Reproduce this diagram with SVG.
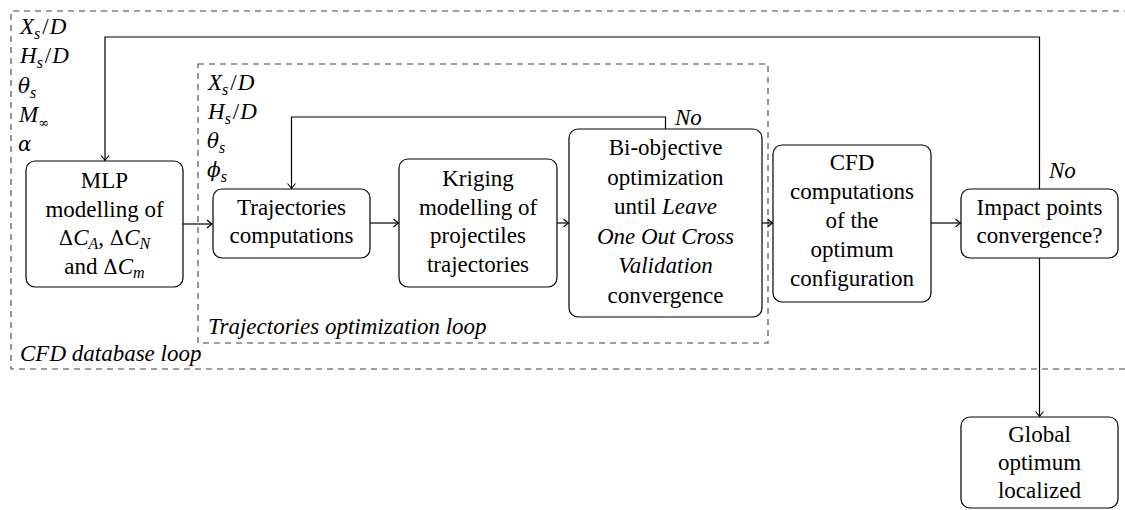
<svg xmlns="http://www.w3.org/2000/svg" width="1125" height="510" viewBox="0 0 1125 510">
<defs>
<marker id="arr" viewBox="-6 -5 8 10" markerWidth="8" markerHeight="10" refX="0" refY="0" orient="auto" markerUnits="userSpaceOnUse">
<path d="M-5,-4 Q-1.5,-1 0,0 Q-1.5,1 -5,4" fill="none" stroke="#000" stroke-width="1.1"/>
</marker>
</defs>
<g id="loops" fill="none" stroke="#444" stroke-width="1.1" stroke-dasharray="6 5">
<path d="M1130,11 H11 V369 H1130"/>
<rect x="198" y="64" width="570" height="279"/>
</g>
<g id="loop-labels" font-family="Liberation Serif" font-size="23" font-style="italic" fill="#000">
<text font-family="Liberation Serif" x="20" y="361">CFD database loop</text>
<text font-family="Liberation Serif" x="208" y="334">Trajectories optimization loop</text>
</g>
<g id="labels-outer" font-family="Liberation Serif" font-size="23" fill="#000">
<text font-family="Liberation Serif" x="20" y="34"><tspan font-style="italic">X</tspan><tspan font-style="italic" font-size="16" dy="5">s</tspan><tspan dy="-5" dx="2">/</tspan><tspan font-style="italic" dx="1">D</tspan></text>
<text font-family="Liberation Serif" x="20" y="63"><tspan font-style="italic">H</tspan><tspan font-style="italic" font-size="16" dy="5">s</tspan><tspan dy="-5" dx="2">/</tspan><tspan font-style="italic" dx="1">D</tspan></text>
<text font-family="DejaVu Serif" font-size="20" x="18" y="93"><tspan font-style="italic">θ</tspan><tspan font-family="Liberation Serif" font-style="italic" font-size="16" dy="5">s</tspan></text>
<text font-family="Liberation Serif" x="19" y="122"><tspan font-style="italic">M</tspan><tspan font-family="DejaVu Serif" font-size="13" dy="5">∞</tspan></text>
<text font-family="DejaVu Serif" font-size="20" x="18" y="151" font-style="italic">α</text>
</g>
<g id="labels-inner" font-family="Liberation Serif" font-size="23" fill="#000">
<text font-family="Liberation Serif" x="208" y="90"><tspan font-style="italic">X</tspan><tspan font-style="italic" font-size="16" dy="5">s</tspan><tspan dy="-5" dx="2">/</tspan><tspan font-style="italic" dx="1">D</tspan></text>
<text font-family="Liberation Serif" x="208" y="119"><tspan font-style="italic">H</tspan><tspan font-style="italic" font-size="16" dy="5">s</tspan><tspan dy="-5" dx="2">/</tspan><tspan font-style="italic" dx="1">D</tspan></text>
<text font-family="DejaVu Serif" font-size="20" x="207" y="148"><tspan font-style="italic">θ</tspan><tspan font-family="Liberation Serif" font-style="italic" font-size="16" dy="5">s</tspan></text>
<text font-family="DejaVu Serif" font-size="20" x="207" y="177"><tspan font-style="italic">ϕ</tspan><tspan font-family="Liberation Serif" font-style="italic" font-size="16" dy="5">s</tspan></text>
</g>
<g id="connectors" fill="none" stroke="#000" stroke-width="1.2">
<path d="M183,224 H212" marker-end="url(#arr)"/>
<path d="M370,223 H398.5" marker-end="url(#arr)"/>
<path d="M557,223 H568.5" marker-end="url(#arr)"/>
<path d="M762,223 H772.5" marker-end="url(#arr)"/>
<path d="M931,223 H960.5" marker-end="url(#arr)"/>
<path d="M1039.5,258 V416.5" marker-end="url(#arr)"/>
<path d="M1039.5,189 V37 H105 V160.5" marker-end="url(#arr)"/>
<path d="M665.5,129 V117 H291.5 V188.5" marker-end="url(#arr)"/>
</g>
<g id="connector-labels" font-family="Liberation Serif" font-size="23" font-style="italic" fill="#000">
<text font-family="Liberation Serif" x="675" y="125">No</text>
<text font-family="Liberation Serif" x="1049" y="178">No</text>
</g>
<g id="mlp" font-family="Liberation Serif" font-size="23" text-anchor="middle" fill="#000">
<rect x="26" y="161" width="157" height="126" rx="9" fill="#fff" stroke="#000" stroke-width="1.2"/>
<text font-family="Liberation Serif" x="104.5" y="188">MLP</text>
<text font-family="Liberation Serif" x="104.5" y="216.5">modelling of</text>
<text font-family="Liberation Serif" x="104.5" y="245"><tspan font-family="DejaVu Serif" font-size="20">Δ</tspan><tspan font-style="italic">C</tspan><tspan font-style="italic" font-size="16" dy="4">A</tspan><tspan dy="-4">, </tspan><tspan font-family="DejaVu Serif" font-size="20">Δ</tspan><tspan font-style="italic">C</tspan><tspan font-style="italic" font-size="16" dy="4">N</tspan></text>
<text font-family="Liberation Serif" x="104.5" y="273.5">and <tspan font-family="DejaVu Serif" font-size="20">Δ</tspan><tspan font-style="italic">C</tspan><tspan font-style="italic" font-size="16" dy="4">m</tspan></text>
</g>
<g id="traj" font-family="Liberation Serif" font-size="23" text-anchor="middle" fill="#000">
<rect x="213" y="189" width="157" height="69" rx="9" fill="#fff" stroke="#000" stroke-width="1.2"/>
<text font-family="Liberation Serif" x="291.5" y="215">Trajectories</text>
<text font-family="Liberation Serif" x="291.5" y="243">computations</text>
</g>
<g id="kriging" font-family="Liberation Serif" font-size="23" text-anchor="middle" fill="#000">
<rect x="399" y="159" width="158" height="128" rx="9" fill="#fff" stroke="#000" stroke-width="1.2"/>
<text font-family="Liberation Serif" x="478" y="186">Kriging</text>
<text font-family="Liberation Serif" x="478" y="214.5">modelling of</text>
<text font-family="Liberation Serif" x="478" y="243">projectiles</text>
<text font-family="Liberation Serif" x="478" y="271.5">trajectories</text>
</g>
<g id="biobj" font-family="Liberation Serif" font-size="23" text-anchor="middle" fill="#000">
<rect x="569" y="129" width="193" height="188" rx="9" fill="#fff" stroke="#000" stroke-width="1.2"/>
<text font-family="Liberation Serif" x="665.5" y="155">Bi-objective</text>
<text font-family="Liberation Serif" x="665.5" y="184.5">optimization</text>
<text font-family="Liberation Serif" x="665.5" y="214">until <tspan font-style="italic">Leave</tspan></text>
<text font-family="Liberation Serif" font-style="italic" x="665.5" y="243.5">One Out Cross</text>
<text font-family="Liberation Serif" font-style="italic" x="665.5" y="273">Validation</text>
<text font-family="Liberation Serif" x="665.5" y="302.5">convergence</text>
</g>
<g id="cfd" font-family="Liberation Serif" font-size="23" text-anchor="middle" fill="#000">
<rect x="773" y="145" width="158" height="157" rx="9" fill="#fff" stroke="#000" stroke-width="1.2"/>
<text font-family="Liberation Serif" x="852" y="170">CFD</text>
<text font-family="Liberation Serif" x="852" y="199">computations</text>
<text font-family="Liberation Serif" x="852" y="228">of the</text>
<text font-family="Liberation Serif" x="852" y="257">optimum</text>
<text font-family="Liberation Serif" x="852" y="286">configuration</text>
</g>
<g id="impact" font-family="Liberation Serif" font-size="23" text-anchor="middle" fill="#000">
<rect x="961" y="189" width="157" height="69" rx="9" fill="#fff" stroke="#000" stroke-width="1.2"/>
<text font-family="Liberation Serif" x="1039.5" y="215">Impact points</text>
<text font-family="Liberation Serif" x="1039.5" y="243">convergence?</text>
</g>
<g id="global" font-family="Liberation Serif" font-size="23" text-anchor="middle" fill="#000">
<rect x="961" y="417" width="157" height="91" rx="9" fill="#fff" stroke="#000" stroke-width="1.2"/>
<text font-family="Liberation Serif" x="1039.5" y="441.5">Global</text>
<text font-family="Liberation Serif" x="1039.5" y="469.5">optimum</text>
<text font-family="Liberation Serif" x="1039.5" y="497.5">localized</text>
</g>
</svg>
